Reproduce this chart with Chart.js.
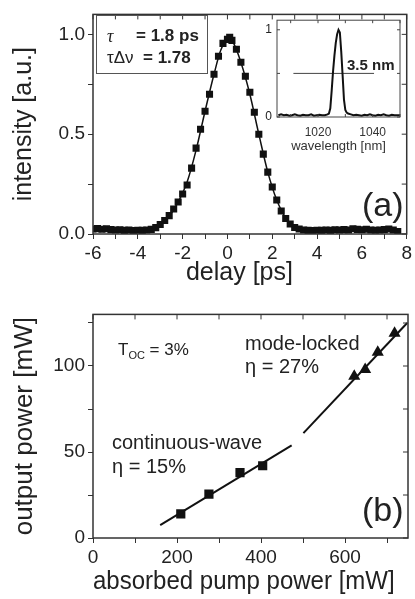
<!DOCTYPE html>
<html>
<head>
<meta charset="utf-8">
<script src="https://cdn.jsdelivr.net/npm/chart.js@4/dist/chart.umd.min.js"></script>
<style>
    body { margin: 0; background: #fff; font-family: 'Liberation Sans', Arial, sans-serif; color: #222; }
    .painel { position: absolute; left: 0; }
    .texto { position: absolute; white-space: nowrap; line-height: 1; }
    #caixa { position: absolute; left: 96px; top: 15px; width: 110px; height: 57px; border: 1px solid #555; }
</style>
</head>
<body>
<div class="painel" style="top:0;width:415px;height:300px"><canvas id="grafico-a" width="415" height="300"></canvas></div>
<div class="painel" style="top:300px;width:415px;height:299px"><canvas id="grafico-b" width="415" height="299"></canvas></div>
<div class="painel" style="left:250px;top:8px;width:165px;height:150px"><canvas id="grafico-inset" width="165" height="150"></canvas></div>

<div id="caixa"></div>
<div class="texto" style="left:107px;top:27px;font-size:18px;font-family:'Liberation Serif',serif;font-style:italic">τ</div>
<div class="texto" style="left:136px;top:27px;font-size:17px;font-weight:bold">= 1.8 ps</div>
<div class="texto" style="left:107px;top:49px;font-size:17px">τΔν</div>
<div class="texto" style="left:143px;top:49px;font-size:17px;font-weight:bold">= 1.78</div>
<div class="texto" style="left:347px;top:57px;font-size:15px;font-weight:bold">3.5 nm</div>
<div class="texto" style="left:362px;top:187px;font-size:34px">(a)</div>

<div class="texto" style="left:118px;top:341px;font-size:17px">T<sub style="font-size:11px">OC</sub> = 3%</div>
<div class="texto" style="left:245px;top:333px;font-size:20px">mode-locked</div>
<div class="texto" style="left:245px;top:356px;font-size:20px">η = 27%</div>
<div class="texto" style="left:112px;top:432px;font-size:20px">continuous-wave</div>
<div class="texto" style="left:112px;top:456px;font-size:20px">η = 15%</div>
<div class="texto" style="left:362px;top:492px;font-size:34px">(b)</div>

<script>
// (a) autocorrelação: atraso [ps] e intensidade medida
const atraso = [-6.0, -5.8, -5.6, -5.4, -5.2, -5.0, -4.8, -4.6, -4.4, -4.2, -4.0, -3.8, -3.6, -3.4, -3.2,
    -3.0, -2.8, -2.6, -2.4, -2.2, -2.0, -1.8, -1.6, -1.4, -1.2, -1.0, -0.8, -0.6, -0.4, -0.2, 0.0, 0.1,
    0.2, 0.4, 0.6, 0.8, 1.0, 1.2, 1.4, 1.6, 1.8, 2.0, 2.2, 2.4, 2.6, 2.8, 3.0, 3.2, 3.4, 3.6, 3.8,
    4.0, 4.2, 4.4, 4.6, 4.8, 5.0, 5.2, 5.4, 5.6, 5.8, 6.0, 6.2, 6.4, 6.6, 6.8, 7.0, 7.2, 7.4, 7.6];
const intensidade = [0.025, 0.027, 0.024, 0.026, 0.022, 0.020, 0.021, 0.018, 0.020, 0.017, 0.019, 0.018, 0.020, 0.023, 0.032,
    0.048, 0.068, 0.092, 0.125, 0.160, 0.200, 0.245, 0.330, 0.430, 0.525, 0.615, 0.700, 0.800, 0.890, 0.955, 0.975, 0.985,
    0.970, 0.925, 0.860, 0.790, 0.710, 0.610, 0.500, 0.400, 0.310, 0.235, 0.170, 0.115, 0.078, 0.050, 0.033, 0.025, 0.020, 0.018, 0.017,
    0.019, 0.018, 0.020, 0.018, 0.021, 0.020, 0.022, 0.020, 0.026, 0.023, 0.021, 0.024, 0.020, 0.019, 0.020, 0.022, 0.025, 0.020, 0.012];

// curva ajustada
const ajusteAtraso = [-6, -4, -3.4, -3.0, -2.6, -2.2, -1.8, -1.4, -1.0, -0.6, -0.3, 0.05, 0.3, 0.6, 1.0, 1.4, 1.8, 2.2, 2.6, 3.0, 3.4, 5, 7.6];
const ajusteIntensidade = [0.02, 0.018, 0.022, 0.045, 0.09, 0.16, 0.26, 0.42, 0.615, 0.80, 0.92, 0.98, 0.95, 0.86, 0.70, 0.50, 0.31, 0.17, 0.08, 0.035, 0.02, 0.02, 0.02];

const rotulosAtraso = [-6, -4, -2, 0, 2, 4, 6, 8];
const rotulosIntensidade = [0, 0.5, 1.0];

// inset: espectro
const comprimentoOnda = [1005.5, 1006.5, 1007.5, 1008.5, 1009.5, 1010.5, 1011.5, 1012.5, 1013.5, 1014.5, 1015.5,
    1016.5, 1017.5, 1018.5, 1019.5, 1020.5, 1021.5, 1022.5, 1023.5, 1024, 1024.5, 1025, 1025.5, 1026, 1026.5,
    1027, 1027.5, 1028, 1028.5, 1029, 1029.5, 1030, 1030.5, 1031, 1032, 1033, 1034, 1035, 1036, 1037, 1038,
    1039, 1040, 1041, 1042, 1043, 1044, 1045, 1046, 1047, 1048, 1049, 1050];
const espectro = [0.02, 0.03, 0.02, 0.025, 0.015, 0.02, 0.03, 0.02, 0.015, 0.025, 0.02,
    0.02, 0.03, 0.015, 0.02, 0.025, 0.02, 0.02, 0.03, 0.04, 0.10, 0.30, 0.52, 0.70, 0.85,
    0.95, 1.00, 0.97, 0.75, 0.48, 0.20, 0.08, 0.05, 0.04, 0.03, 0.02, 0.025, 0.02, 0.015, 0.025, 0.02,
    0.03, 0.02, 0.015, 0.025, 0.02, 0.03, 0.02, 0.015, 0.025, 0.02, 0.02, 0.02];
const fwhmX = [1011, 1040.5];
const fwhmY = [0.5, 0.5];
const rotulosOnda = [1020, 1040];
const rotulosEspectro = [0, 1];

// (b) potência de saída x potência de bombeio absorvida
const bombeioCw = [209, 276, 350, 404];
const saidaCw = [14, 25.5, 38, 42];
const bombeioMl = [622, 648, 678, 718];
const saidaMl = [94, 98, 108, 119];
const retaCwX = [160, 473];
const retaCwY = [7.5, 53.8];
const retaMlX = [501, 748];
const retaMlY = [61, 125];
const rotulosBombeio = [0, 200, 400, 600];
const rotulosSaida = [0, 50, 100];

Chart.defaults.font.family = "'Liberation Sans', Arial, sans-serif";
Chart.defaults.color = '#222';
Chart.defaults.animation = false;

const pontos = (xs, ys) => xs.map((x, i) => ({x: x, y: ys[i]}));
const temRotulo = (lista) => (v) => lista.some(r => Math.abs(r - v) < 1e-6) ? String(v) : '';

// moldura com tiques espelhados (para dentro)
const moldura = {
    id: 'moldura',
    afterDraw(chart, args, opts) {
        const {ctx, chartArea: a, scales} = chart;
        const t = opts.tique;
        ctx.save();
        ctx.strokeStyle = opts.cor;
        ctx.lineWidth = opts.largura;
        ctx.strokeRect(a.left, a.top, a.right - a.left, a.bottom - a.top);
        ctx.lineWidth = 1;
        ctx.beginPath();
        scales.x.ticks.forEach(k => {
            const px = scales.x.getPixelForValue(k.value);
            ctx.moveTo(px, a.top); ctx.lineTo(px, a.top + t);
            if (opts.dentro) { ctx.moveTo(px, a.bottom); ctx.lineTo(px, a.bottom - t); }
        });
        scales.y.ticks.forEach(k => {
            const py = scales.y.getPixelForValue(k.value);
            ctx.moveTo(a.right, py); ctx.lineTo(a.right - t, py);
            if (opts.dentro) { ctx.moveTo(a.left, py); ctx.lineTo(a.left + t, py); }
        });
        ctx.stroke();
        ctx.restore();
    }
};

function eixo(min, max, passo, rotulos, titulo, tamanho, padTitulo, extra) {
    return Object.assign({
        type: 'linear',
        min: min,
        max: max,
        ticks: {
            stepSize: passo, includeBounds: false, callback: temRotulo(rotulos),
            autoSkip: false, maxRotation: 0, minRotation: 0,
            font: {size: 19}, padding: 3, color: '#222'
        },
        grid: { drawOnChartArea: false, tickLength: 5, color: '#333' },
        border: { display: false },
        title: { display: true, text: titulo, font: {size: tamanho}, padding: padTitulo, color: '#222' }
    }, extra);
}

// gráfico (a)
new Chart(document.querySelector('#grafico-a'), {
    type: 'scatter',
    data: {
        datasets: [
            {
                data: pontos(ajusteAtraso, ajusteIntensidade),
                showLine: true,
                tension: 0.4,
                cubicInterpolationMode: 'monotone',
                borderColor: '#111',
                borderWidth: 1.5,
                pointRadius: 0
            },
            {
                data: pontos(atraso, intensidade),
                pointStyle: 'rect',
                pointRadius: 5,
                backgroundColor: '#111',
                borderColor: '#111',
                borderWidth: 0
            }
        ]
    },
    options: {
        responsive: false,
        layout: { padding: {top: 10, right: 7, left: 0, bottom: 0} },
        scales: {
            x: eixo(-6, 8, 1, rotulosAtraso, 'delay [ps]   ', 25, {top: 0, bottom: 12},
                {afterFit: (s) => { s.height = 66; }}),
            y: eixo(0, 1.1, 0.25, rotulosIntensidade, 'intensity [a.u.]', 25, {top: 9, bottom: 0},
                {afterFit: (s) => { s.width = 93; }})
        },
        plugins: {
            legend: { display: false },
            tooltip: { enabled: false },
            moldura: { tique: 5, cor: '#333', largura: 1.5, dentro: false }
        }
    },
    plugins: [moldura]
});
// rótulos do eixo y em (a) com uma casa decimal
Chart.getChart('grafico-a').options.scales.y.ticks.callback = (v) =>
    rotulosIntensidade.some(r => Math.abs(r - v) < 1e-6) ? v.toFixed(1) : '';
Chart.getChart('grafico-a').update();

// inset (espectro)
new Chart(document.querySelector('#grafico-inset'), {
    type: 'scatter',
    data: {
        datasets: [
            {
                data: pontos(comprimentoOnda, espectro),
                showLine: true,
                borderColor: '#111',
                borderWidth: 2,
                pointRadius: 0
            },
            {
                data: pontos(fwhmX, fwhmY),
                showLine: true,
                borderColor: '#444',
                borderWidth: 1,
                pointRadius: 0
            }
        ]
    },
    options: {
        responsive: false,
        layout: { padding: {top: 10, right: 15, left: 0, bottom: 0} },
        scales: {
            x: {
                type: 'linear', min: 1005, max: 1050,
                ticks: {
                    stepSize: 10, includeBounds: false, callback: temRotulo(rotulosOnda),
                    autoSkip: false, maxRotation: 0, minRotation: 0,
                    font: {size: 12}, padding: 8, color: '#333'
                },
                grid: { drawOnChartArea: false, drawTicks: false },
                border: { display: false },
                title: { display: true, text: 'wavelength [nm]', font: {size: 13}, padding: {top: 0, bottom: 4}, color: '#333' },
                afterFit: (s) => { s.height = 41; }
            },
            y: {
                type: 'linear', min: 0, max: 1.11,
                ticks: { stepSize: 0.5, includeBounds: false, callback: temRotulo(rotulosEspectro), font: {size: 12}, padding: 5, color: '#222' },
                grid: { drawOnChartArea: false, drawTicks: false },
                border: { display: false },
                afterFit: (s) => { s.width = 27; }
            }
        },
        plugins: {
            legend: { display: false },
            tooltip: { enabled: false },
            moldura: { tique: 3, cor: '#444', largura: 1, dentro: true }
        }
    },
    plugins: [moldura]
});

// gráfico (b)
new Chart(document.querySelector('#grafico-b'), {
    type: 'scatter',
    data: {
        datasets: [
            { data: pontos(retaCwX, retaCwY), showLine: true, borderColor: '#111', borderWidth: 2, pointRadius: 0 },
            { data: pontos(retaMlX, retaMlY), showLine: true, borderColor: '#111', borderWidth: 2, pointRadius: 0 },
            { data: pontos(bombeioCw, saidaCw), pointStyle: 'rect', pointRadius: 6.5, backgroundColor: '#111', borderWidth: 0 },
            { data: pontos(bombeioMl, saidaMl), pointStyle: 'triangle', pointRadius: 7, backgroundColor: '#111', borderWidth: 0 }
        ]
    },
    options: {
        responsive: false,
        layout: { padding: {top: 13, right: 7, left: 0, bottom: 0} },
        scales: {
            x: eixo(0, 750, 100, rotulosBombeio, 'absorbed pump power [mW]  ', 26, {top: 0, bottom: 2},
                {afterFit: (s) => { s.height = 61; }}),
            y: eixo(0, 130, 25, rotulosSaida, 'output power [mW]', 26, {top: 9, bottom: 0},
                {afterFit: (s) => { s.width = 93; }})
        },
        plugins: {
            legend: { display: false },
            tooltip: { enabled: false },
            moldura: { tique: 5, cor: '#333', largura: 1.5, dentro: false }
        }
    },
    plugins: [moldura]
});
</script>
</body>
</html>
